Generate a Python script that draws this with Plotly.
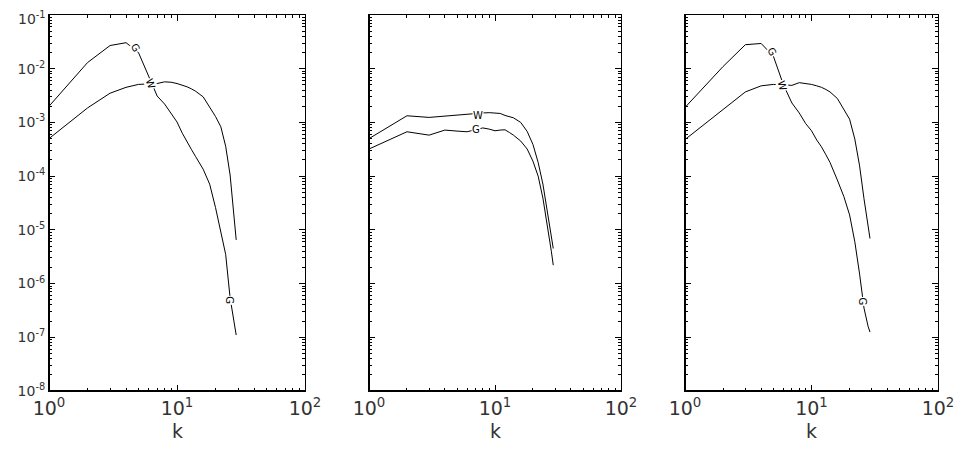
import plotly.graph_objects as go
import math

# wavenumbers
k = [1, 2, 3, 4, 5, 6, 7, 8, 9, 10, 11, 12, 13, 14, 16, 18, 20, 22, 24, 26, 28, 29]

# panel 1
p1_G = [2.0e-3, 1.3e-2, 2.7e-2, 3.05e-2, 2.0e-2, 7.4e-3, 3.1e-3, 2.2e-3, 1.5e-3, 1.02e-3, 6.3e-4,
        4.2e-4, 3.1e-4, 2.3e-4, 1.35e-4, 7.1e-5, 2.6e-5, 9.1e-6, 3.5e-6, 5.4e-7, 1.7e-7, 1.1e-7]
p1_W = [5.0e-4, 1.86e-3, 3.5e-3, 4.5e-3, 5.1e-3, 5.2e-3, 5.3e-3, 5.7e-3, 5.6e-3, 5.3e-3, 5.0e-3,
        4.6e-3, 4.2e-3, 3.8e-3, 3.0e-3, 1.95e-3, 1.29e-3, 8.3e-4, 3.6e-4, 1.05e-4, 1.9e-5, 6.5e-6]
# panel 2
p2_W = [5.0e-4, 1.33e-3, 1.24e-3, 1.32e-3, 1.36e-3, 1.4e-3, 1.45e-3, 1.5e-3, 1.52e-3, 1.5e-3, 1.47e-3,
        1.35e-3, 1.28e-3, 1.22e-3, 1.0e-3, 6.8e-4, 3.9e-4, 1.8e-4, 7.1e-5, 2.2e-5, 7.0e-6, 4.5e-6]
p2_G = [3.2e-4, 6.7e-4, 5.8e-4, 7.2e-4, 6.9e-4, 6.7e-4, 7.3e-4, 7.9e-4, 7.5e-4, 7.0e-4, 7.2e-4,
        7.3e-4, 6.5e-4, 5.8e-4, 4.5e-4, 3.2e-4, 1.9e-4, 1.0e-4, 3.9e-5, 1.3e-5, 4.0e-6, 2.2e-6]
# panel 3
p3_G = [1.9e-3, 1.1e-2, 2.8e-2, 2.95e-2, 1.7e-2, 5.0e-3, 2.3e-3, 1.5e-3, 9.5e-4, 7.0e-4, 4.7e-4,
        3.5e-4, 2.5e-4, 1.8e-4, 8.5e-5, 4.2e-5, 1.9e-5, 6.0e-6, 1.5e-6, 3.5e-7, 1.6e-7, 1.25e-7]
p3_W = [4.8e-4, 1.77e-3, 3.7e-3, 4.8e-3, 5.1e-3, 5.0e-3, 4.9e-3, 5.5e-3, 5.3e-3, 5.1e-3, 4.8e-3,
        4.5e-3, 4.1e-3, 3.7e-3, 2.8e-3, 1.8e-3, 1.15e-3, 4.9e-4, 1.55e-4, 3.8e-5, 1.2e-5, 6.9e-6]

# tick labels
x_tickvals = [1, 10, 100]
x_ticktext = ["10<sup>0</sup>", "10<sup>1</sup>", "10<sup>2</sup>"]
y_tickvals = [1e-8, 1e-7, 1e-6, 1e-5, 1e-4, 1e-3, 1e-2, 1e-1]
y_ticktext = ["10<sup>-8</sup>", "10<sup>-7</sup>", "10<sup>-6</sup>", "10<sup>-5</sup>",
              "10<sup>-4</sup>", "10<sup>-3</sup>", "10<sup>-2</sup>", "10<sup>-1</sup>"]

# curve labels: (panel, text, k, value, angle)
labels = [
    (1, "G", 4.7, 2.43e-2, 60), (1, "W", 6.15, 5.2e-3, 70), (1, "G", 25.9, 4.9e-7, 90),
    (2, "W", 7.35, 1.37e-3, 0), (2, "G", 7.06, 7.4e-4, 0),
    (3, "G", 4.85, 2.07e-2, 60), (3, "W", 5.9, 4.97e-3, 75), (3, "G", 25.2, 4.6e-7, 90),
]

# page body has an 8px margin: figure pixel = screen pixel - 8
OFF = 8
W, H = 963 - OFF, 451 - OFF
xdom = [(49, 305), (369, 621), (685, 938)]
ytop, ybot = 15, 391
ydom = [1 - (ybot - OFF) / H, 1 - (ytop - OFF) / H]

fig = go.Figure()
series = [(p1_G, p1_W), (p2_W, p2_G), (p3_G, p3_W)]
for i, pair in enumerate(series):
    for s in pair:
        fig.add_trace(go.Scatter(x=k, y=s, mode="lines", line=dict(color="black", width=1),
                                 xaxis=f"x{i+1}", yaxis=f"y{i+1}", showlegend=False))

txtcol = "#333333"
fontfam = "DejaVu Sans"
for i, (x0, x1) in enumerate(xdom):
    sfx = "" if i == 0 else str(i + 1)
    # the topmost y label would overflow the figure top; it is drawn as an annotation below
    ytext = y_ticktext[:-1] + [""]
    fig.layout["xaxis" + sfx] = dict(
        domain=[(x0 - OFF) / W, (x1 - OFF) / W], type="log", range=[0, 2], anchor="y" + sfx,
        tickmode="array", tickvals=x_tickvals, ticktext=x_ticktext, automargin=False,
        ticks="inside", ticklen=6, tickcolor="black", tickwidth=1,
        minor=dict(ticks="inside", ticklen=3, tickcolor="black", dtick="D1", showgrid=False),
        showline=True, linecolor="black", linewidth=1, mirror="ticks",
        showgrid=False, zeroline=False,
        tickfont=dict(family=fontfam, size=19, color=txtcol),
    )
    fig.layout["yaxis" + sfx] = dict(
        domain=ydom, type="log", range=[-8, -1], anchor="x" + sfx,
        tickmode="array", tickvals=y_tickvals, ticktext=ytext, automargin=False,
        ticks="inside", ticklen=6, tickcolor="black", tickwidth=1,
        minor=dict(ticks="inside", ticklen=3, tickcolor="black", dtick="D1", showgrid=False),
        showline=True, linecolor="black", linewidth=1, mirror="ticks",
        showgrid=False, zeroline=False, showticklabels=(i == 0),
        tickfont=dict(family=fontfam, size=14, color=txtcol),
    )
    # heavier left and bottom axis lines
    fig.add_shape(type="line", xref=f"x{sfx} domain", yref=f"y{sfx} domain",
                  x0=0, x1=0, y0=0, y1=1, line=dict(color="black", width=2))
    fig.add_shape(type="line", xref=f"x{sfx} domain", yref=f"y{sfx} domain",
                  x0=0, x1=1, y0=0, y1=0, line=dict(color="black", width=2))
    fig.add_annotation(text="k", xref="paper", yref="paper", x=((x0 + x1) / 2 - OFF) / W,
                       y=1 - (431 - OFF) / H, yanchor="middle", xanchor="center", showarrow=False,
                       font=dict(family=fontfam, size=19, color=txtcol))

# top y tick label of the first panel
fig.add_annotation(text=y_ticktext[-1], xref="paper", yref="paper",
                   x=(47 - OFF) / W, y=1.0, xanchor="right", yanchor="top", showarrow=False,
                   borderpad=0, font=dict(family=fontfam, size=14, color=txtcol))

for p, t, kx, v, ang in labels:
    sfx = "" if p == 1 else str(p)
    fig.add_annotation(text=t, x=math.log10(kx), y=math.log10(v), xref="x" + sfx, yref="y" + sfx,
                       showarrow=False, textangle=ang, bgcolor="white", borderpad=0,
                       font=dict(family=fontfam, size=10, color="black"))

fig.update_layout(width=W, height=H, margin=dict(l=0, r=0, t=0, b=0, autoexpand=False),
                  plot_bgcolor="white", paper_bgcolor="white")
fig.write_html("out.html")
